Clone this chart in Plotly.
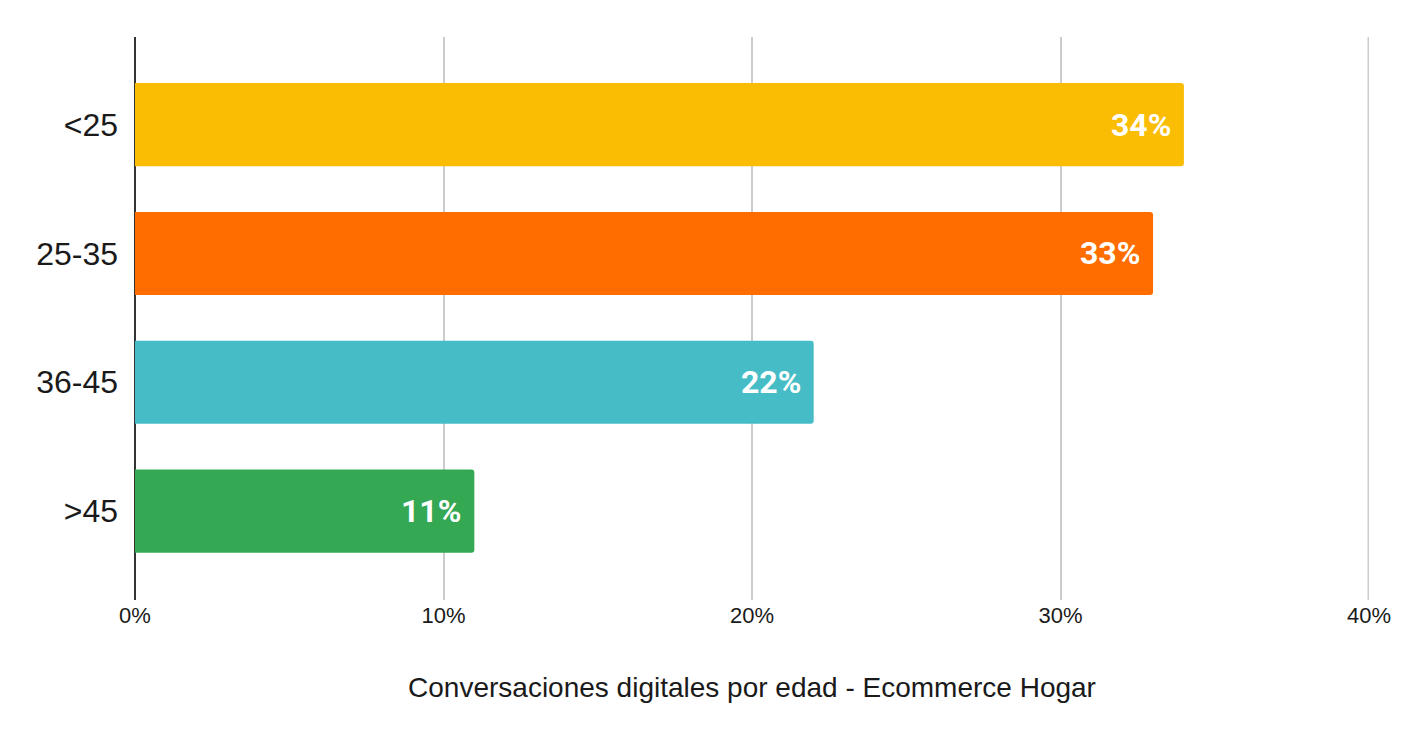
import plotly.graph_objects as go

categories = ["<25", "25-35", "36-45", ">45"]
values = [0.34, 0.33, 0.22, 0.11]
colors = ["#FBBC04", "#FF6D01", "#46BDC6", "#34A853"]
x_ticks = [0, 0.1, 0.2, 0.3, 0.4]
x_tick_labels = ["0%", "10%", "20%", "30%", "40%"]
title_text = "Conversaciones digitales por edad - Ecommerce Hogar"

AR = "Liberation Sans, Arial, sans-serif"

fig = go.Figure()
fig.add_trace(go.Bar(
    y=categories, x=values, orientation="h",
    marker=dict(color=colors, cornerradius=3, line=dict(width=0)),
    width=0.645,
    hoverinfo="skip",
))

for c, v in zip(categories, values):
    fig.add_annotation(
        x=v, y=c, text=f"{round(v*100)}%", showarrow=False,
        xanchor="right", xshift=-11, yanchor="middle",
        font=dict(family="Roboto", size=32, color="white", weight="bold"),
    )

# right-edge gridline at 40% (half of it is clipped by the plot area)
fig.add_shape(type="line", x0=x_ticks[-1], x1=x_ticks[-1], y0=0, y1=1,
              xref="x", yref="paper", line=dict(color="#CCCCCC", width=3), layer="below")

fig.update_layout(
    width=1406, height=742,
    margin=dict(l=127, r=45, t=29, b=150),
    plot_bgcolor="white", paper_bgcolor="white",
    showlegend=False,
    font=dict(family=AR, color="#1a1a1a"),
)
fig.update_xaxes(
    range=[0, 0.4], tickvals=x_ticks, ticktext=x_tick_labels,
    showgrid=True, gridcolor="#CCCCCC", gridwidth=1.5,
    zeroline=True, zerolinecolor="#333333", zerolinewidth=1.5,
    showline=False, ticks="", tickfont=dict(family=AR, size=22, color="#1a1a1a"),
    title=dict(text=title_text, font=dict(family=AR, size=28, color="#1a1a1a"), standoff=50),
    fixedrange=True,
)
fig.update_yaxes(
    categoryorder="array", categoryarray=categories,
    range=[3.69, -0.68], showgrid=False, zeroline=False, showline=False,
    ticks="", ticklabelstandoff=16, tickfont=dict(family=AR, size=32, color="#1a1a1a"),
    fixedrange=True,
)

fig.write_html("out.html")
